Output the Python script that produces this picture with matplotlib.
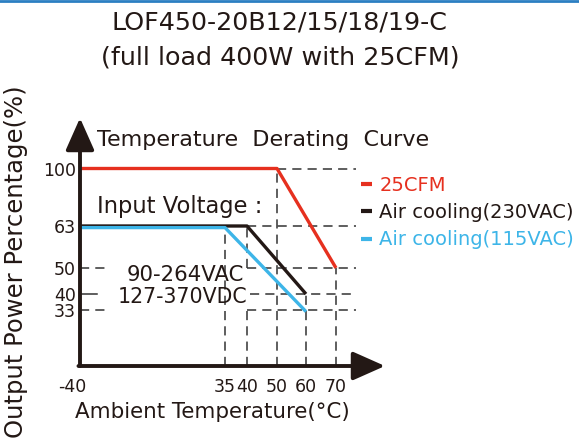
import numpy as np
import matplotlib
matplotlib.use("Agg")
from matplotlib import pyplot as plt
from matplotlib.lines import Line2D
from matplotlib.transforms import ScaledTranslation

# derating curves (ambient temperature in degC, output power in %)
temp_25cfm = [-40, 50, 70]
load_25cfm = [100, 100, 50]
temp_230vac = [-40, 40, 60]
load_230vac = [63, 63, 40]
temp_115vac = [-40, 35, 60]
load_115vac = [63, 63, 33]

x_ticks = [-40, 35, 40, 50, 60, 70]
y_ticks = [100, 63, 50, 40, 33]

series_labels = ["25CFM", "Air cooling(230VAC)", "Air cooling(115VAC)"]
RED = "#e6301f"
BLACK = "#231815"
BLUE = "#3db5e8"
DASH = "#333333"

W, H = 579, 445
FONT = "DejaVu Sans"
plt.rcParams["font.family"] = FONT

# the chart is schematic: axis positions are not linear in the values
x_knots_val = np.array([-40, 35, 40, 50, 60, 70, 85])
x_knots_pos = np.array([0, 145, 167, 197, 226, 256, 305])
y_knots_val = np.array([0, 33, 40, 50, 63, 100, 130])
y_knots_pos = np.array([0, 56, 72, 98, 140, 197.5, 248])


def fwd(knv, knp):
    return lambda v: np.interp(v, knv, knp)


def inv(knv, knp):
    return lambda p: np.interp(p, knp, knv)


def px(x, y):
    """pixel position (from top left) to figure fraction"""
    return x / W, 1 - y / H


fig = plt.figure(figsize=(W / 100, H / 100), dpi=100)
ax = fig.add_axes([80 / W, (H - 366) / H, 305 / W, 248 / H])
ax.set_xscale("function", functions=(fwd(x_knots_val, x_knots_pos), inv(x_knots_val, x_knots_pos)))
ax.set_yscale("function", functions=(fwd(y_knots_val, y_knots_pos), inv(y_knots_val, y_knots_pos)))
ax.set_xlim(-40, 85)
ax.set_ylim(0, 130)

for s in ax.spines.values():
    s.set_visible(False)

# dashed guide lines
dash_kw = dict(color=DASH, lw=1.1, ls=(0, (6, 4)), zorder=1)
ax.plot([50, 76], [100, 100], **dash_kw)
ax.plot([40, 76], [63, 63], **dash_kw)
ax.plot([40, 76], [50, 50], **dash_kw)
ax.plot([41, 76], [40, 40], **dash_kw)
ax.plot([40, 76], [33, 33], **dash_kw)
ax.plot([-40, -26], [50, 50], **dash_kw)
ax.plot([-40, -26], [33, 33], **dash_kw)
ax.plot([-40, -31], [40, 40], color=DASH, lw=1.1, zorder=1)
ax.plot([35, 35], [0, 63], **dash_kw)
ax.plot([40, 40], [50, 63], **dash_kw)
ax.plot([40, 40], [0, 33], **dash_kw)
ax.plot([50, 50], [0, 100], **dash_kw)
ax.plot([60, 60], [0, 40], **dash_kw)
ax.plot([70, 70], [0, 50], **dash_kw)

# curves
ax.plot(temp_25cfm, load_25cfm, color=RED, lw=2.4, label=series_labels[0], zorder=3,
        solid_capstyle="butt")
ax.plot(temp_230vac, load_230vac, color=BLACK, lw=2.4, label=series_labels[1], zorder=3,
        solid_capstyle="butt")
ax.plot(temp_115vac, load_115vac, color=BLUE, lw=2.4, label=series_labels[2], zorder=4,
        solid_capstyle="butt",
        transform=ax.transData + ScaledTranslation(0, -1.6 / 100, fig.dpi_scale_trans))

# axes with arrow heads
arrow = dict(arrowstyle="-|>,head_length=0.9,head_width=0.4", lw=2.8, color=BLACK,
             shrinkA=0, shrinkB=0, mutation_scale=22)
ax.annotate("", xy=(0, 1.0), xytext=(0, 0), xycoords="axes fraction", arrowprops=arrow,
            annotation_clip=False, zorder=5)
ax.annotate("", xy=(1.0, 0), xytext=(-0.005, 0), xycoords="axes fraction", arrowprops=arrow,
            annotation_clip=False, zorder=5)

ax.set_xticks(x_ticks)
ax.set_xticklabels([str(t) for t in x_ticks])
ax.set_yticks(y_ticks)
ax.set_yticklabels([str(t) for t in y_ticks])
ax.minorticks_off()
ax.tick_params(axis="both", length=0, labelsize=12.5, colors=BLACK)
ax.tick_params(axis="x", pad=9)
ax.tick_params(axis="y", pad=3)
for lbl in ax.get_xticklabels():
    if lbl.get_text() == "-40":
        lbl.set_transform(lbl.get_transform() + ScaledTranslation(-8 / 100, 0, fig.dpi_scale_trans))

leg = ax.legend(loc="upper left", bbox_to_anchor=(361 / W, 1 - 176 / H), bbox_transform=fig.transFigure,
                frameon=False, handlelength=0.55, handletextpad=0.4, labelspacing=0.42,
                fontsize=14, labelcolor="linecolor", borderpad=0, borderaxespad=0)
for h in leg.legend_handles:
    h.set_linewidth(3)

# texts
fig.text(*px(280, 22), "LOF450-20B12/15/18/19-C", ha="center", va="center", fontsize=18.3, color=BLACK)
fig.text(*px(280, 57), "(full load 400W with 25CFM)", ha="center", va="center", fontsize=18.3, color=BLACK)
fig.text(*px(16, 262), "Output Power Percentage(%)", ha="center", va="center", rotation=90,
         fontsize=17.5, color=BLACK)
fig.text(*px(212, 412), "Ambient Temperature(°C)", ha="center", va="center", fontsize=15.4, color=BLACK)
fig.text(*px(97, 140), "Temperature  Derating  Curve", ha="left", va="center", fontsize=16, color=BLACK)
fig.text(*px(97, 207), "Input Voltage :", ha="left", va="center", fontsize=16.3, color=BLACK)
fig.text(*px(185, 275), "90-264VAC", ha="center", va="center", fontsize=15.3, color=BLACK)
fig.text(*px(182, 297), "127-370VDC", ha="center", va="center", fontsize=14.8, color=BLACK)

# blue rule on the top edge
fig.add_artist(Line2D([0, 1], [1 - 1 / H, 1 - 1 / H], transform=fig.transFigure, color="#2b7fc2", lw=2))

fig.savefig("out.png", dpi=100)
